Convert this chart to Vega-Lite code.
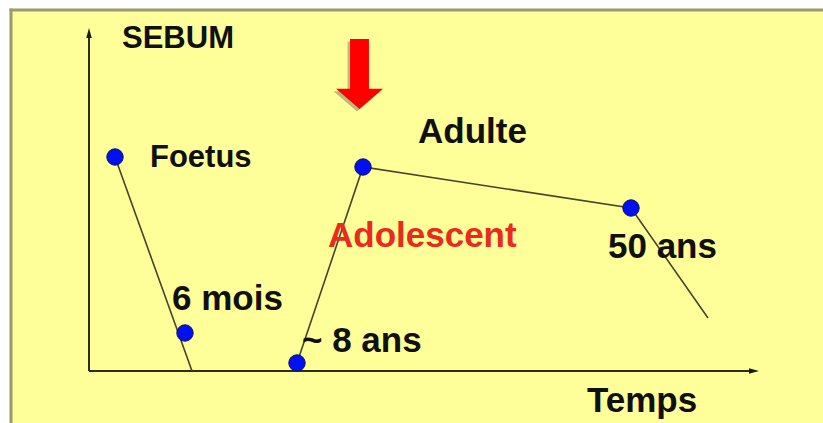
{
  "$schema": "https://vega.github.io/schema/vega-lite/v6.json",
  "width": 823,
  "height": 423,
  "autosize": {"type": "fit", "contains": "padding"},
  "padding": 0,
  "background": "white",
  "view": {"stroke": null},
  "config": {"text": {"font": "Liberation Sans", "fontWeight": "bold"}},
  "layer": [
    {
      "data": {"values": [{"x": -7.8, "x2": 73.4, "y": 36.1, "y2": -5.2}]},
      "mark": {"type": "rect", "fill": "#FFFF99", "strokeWidth": 0},
      "encoding": {
        "x": {"field": "x", "type": "quantitative", "scale": {"domain": [-8.9, 73.4], "nice": false, "zero": false}, "axis": null},
        "x2": {"field": "x2"},
        "y": {"field": "y", "type": "quantitative", "scale": {"domain": [-5.2, 37.1], "nice": false, "zero": false}, "axis": null},
        "y2": {"field": "y2"}
      }
    },
    {
      "data": {"values": [
        {"bord": "haut", "x": -7.95, "y": 36.1, "x2": 73.4, "y2": 36.1},
        {"bord": "gauche", "x": -7.8, "y": 36.25, "x2": -7.8, "y2": -5.2}
      ]},
      "mark": {"type": "rule", "color": "#9a9a6c", "strokeWidth": 3, "clip": true},
      "encoding": {
        "x": {"field": "x", "type": "quantitative", "scale": {"domain": [-8.9, 73.4], "nice": false, "zero": false}, "axis": null},
        "x2": {"field": "x2"},
        "y": {"field": "y", "type": "quantitative", "scale": {"domain": [-5.2, 37.1], "nice": false, "zero": false}, "axis": null},
        "y2": {"field": "y2"}
      }
    },
    {
      "data": {"values": [
        {"axe": "SEBUM", "x": 0, "y": 0, "x2": 0, "y2": 33.5},
        {"axe": "Temps", "x": 0, "y": 0, "x2": 66.1, "y2": 0}
      ]},
      "mark": {"type": "rule", "color": "#2e2e18", "strokeWidth": 2},
      "encoding": {
        "x": {"field": "x", "type": "quantitative", "scale": {"domain": [-8.9, 73.4], "nice": false, "zero": false}, "axis": null},
        "x2": {"field": "x2"},
        "y": {"field": "y", "type": "quantitative", "scale": {"domain": [-5.2, 37.1], "nice": false, "zero": false}, "axis": null},
        "y2": {"field": "y2"}
      }
    },
    {
      "data": {"values": [
        {"dir": "up", "x": 0, "y": 33.8},
        {"dir": "right", "x": 66.5, "y": 0}
      ]},
      "mark": {"type": "point", "filled": true, "color": "#1a1a10", "opacity": 1, "size": 100, "strokeWidth": 0},
      "encoding": {
        "x": {"field": "x", "type": "quantitative", "scale": {"domain": [-8.9, 73.4], "nice": false, "zero": false}, "axis": null},
        "y": {"field": "y", "type": "quantitative", "scale": {"domain": [-5.2, 37.1], "nice": false, "zero": false}, "axis": null},
        "shape": {"field": "dir", "type": "nominal", "legend": null,
          "scale": {"domain": ["up", "right"], "range": ["M 0 -1 L 0.55 1 L -0.55 1 Z", "M 1 0 L -1 0.55 L -1 -0.55 Z"]}}
      }
    },
    {
      "data": {"values": [
        {"serie": "A", "ordre": 1, "x": 2.6, "y": 21.4},
        {"serie": "A", "ordre": 2, "x": 10.3, "y": 0},
        {"serie": "B", "ordre": 1, "x": 20.8, "y": 0.8},
        {"serie": "B", "ordre": 2, "x": 27.4, "y": 20.4},
        {"serie": "B", "ordre": 3, "x": 54.2, "y": 16.3},
        {"serie": "B", "ordre": 4, "x": 61.9, "y": 5.3}
      ]},
      "mark": {"type": "line", "color": "#45452a", "strokeWidth": 1.6},
      "encoding": {
        "x": {"field": "x", "type": "quantitative", "scale": {"domain": [-8.9, 73.4], "nice": false, "zero": false}, "axis": null},
        "y": {"field": "y", "type": "quantitative", "scale": {"domain": [-5.2, 37.1], "nice": false, "zero": false}, "axis": null},
        "detail": {"field": "serie"},
        "order": {"field": "ordre", "type": "quantitative"}
      }
    },
    {
      "data": {"values": [
        {"etape": "Foetus", "x": 2.6, "y": 21.4},
        {"etape": "6 mois", "x": 9.6, "y": 3.8},
        {"etape": "~ 8 ans", "x": 20.8, "y": 0.8},
        {"etape": "Adulte", "x": 27.4, "y": 20.4},
        {"etape": "50 ans", "x": 54.2, "y": 16.3}
      ]},
      "mark": {"type": "circle", "fill": "#0010EE", "stroke": "#101060", "strokeWidth": 1, "opacity": 1, "size": 270},
      "encoding": {
        "x": {"field": "x", "type": "quantitative", "scale": {"domain": [-8.9, 73.4], "nice": false, "zero": false}, "axis": null},
        "y": {"field": "y", "type": "quantitative", "scale": {"domain": [-5.2, 37.1], "nice": false, "zero": false}, "axis": null}
      }
    },
    {
      "data": {"values": [{"x": 27.05, "y": 29.7}]},
      "mark": {"type": "point", "filled": true, "color": "#8c8c66", "opacity": 0.6, "strokeWidth": 0, "size": 4900, "xOffset": -2.5, "yOffset": 2.5,
        "shape": "M -0.27 -1 L 0.27 -1 L 0.27 0.42 L 0.67 0.42 L 0 1 L -0.67 0.42 L -0.27 0.42 Z"},
      "encoding": {
        "x": {"field": "x", "type": "quantitative", "scale": {"domain": [-8.9, 73.4], "nice": false, "zero": false}, "axis": null},
        "y": {"field": "y", "type": "quantitative", "scale": {"domain": [-5.2, 37.1], "nice": false, "zero": false}, "axis": null}
      }
    },
    {
      "data": {"values": [{"x": 27.05, "y": 29.7}]},
      "mark": {"type": "point", "filled": true, "color": "#FF0000", "opacity": 1, "strokeWidth": 0, "size": 4900,
        "shape": "M -0.27 -1 L 0.27 -1 L 0.27 0.42 L 0.67 0.42 L 0 1 L -0.67 0.42 L -0.27 0.42 Z"},
      "encoding": {
        "x": {"field": "x", "type": "quantitative", "scale": {"domain": [-8.9, 73.4], "nice": false, "zero": false}, "axis": null},
        "y": {"field": "y", "type": "quantitative", "scale": {"domain": [-5.2, 37.1], "nice": false, "zero": false}, "axis": null}
      }
    },
    {
      "data": {"values": [
        {"texte": "SEBUM", "x": 3.3, "y": 32.3},
        {"texte": "Foetus", "x": 6.1, "y": 20.4}
      ]},
      "mark": {"type": "text", "align": "left", "baseline": "alphabetic", "fontSize": 31, "color": "#101010"},
      "encoding": {
        "x": {"field": "x", "type": "quantitative", "scale": {"domain": [-8.9, 73.4], "nice": false, "zero": false}, "axis": null},
        "y": {"field": "y", "type": "quantitative", "scale": {"domain": [-5.2, 37.1], "nice": false, "zero": false}, "axis": null},
        "text": {"field": "texte"}
      }
    },
    {
      "data": {"values": [
        {"texte": "Adulte", "x": 32.9, "y": 22.8},
        {"texte": "50 ans", "x": 51.9, "y": 11.3},
        {"texte": "6 mois", "x": 8.3, "y": 6.1},
        {"texte": "~ 8 ans", "x": 21.3, "y": 1.9},
        {"texte": "Temps", "x": 49.8, "y": -4.1}
      ]},
      "mark": {"type": "text", "align": "left", "baseline": "alphabetic", "fontSize": 35, "color": "#101010"},
      "encoding": {
        "x": {"field": "x", "type": "quantitative", "scale": {"domain": [-8.9, 73.4], "nice": false, "zero": false}, "axis": null},
        "y": {"field": "y", "type": "quantitative", "scale": {"domain": [-5.2, 37.1], "nice": false, "zero": false}, "axis": null},
        "text": {"field": "texte"}
      }
    },
    {
      "data": {"values": [
        {"texte": "Adolescent", "x": 23.9, "y": 12.4}
      ]},
      "mark": {"type": "text", "align": "left", "baseline": "alphabetic", "fontSize": 35, "color": "#EA2A1C"},
      "encoding": {
        "x": {"field": "x", "type": "quantitative", "scale": {"domain": [-8.9, 73.4], "nice": false, "zero": false}, "axis": null},
        "y": {"field": "y", "type": "quantitative", "scale": {"domain": [-5.2, 37.1], "nice": false, "zero": false}, "axis": null},
        "text": {"field": "texte"}
      }
    }
  ]
}
